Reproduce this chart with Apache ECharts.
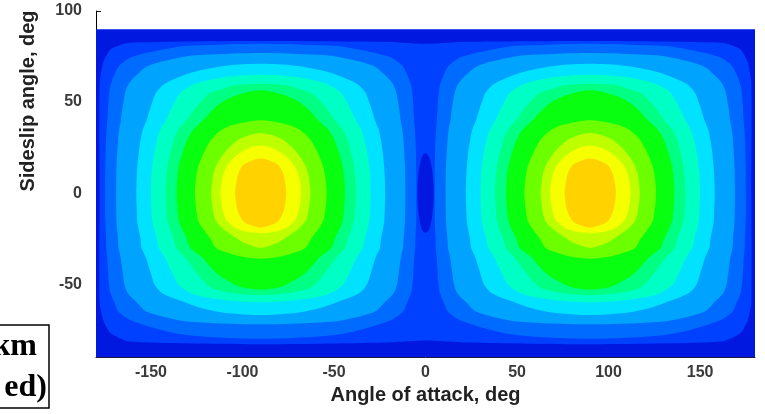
<!DOCTYPE html>
<html>
<head>
<meta charset="utf-8">
<title>Sideslip / angle of attack contour</title>
<script src="https://cdn.jsdelivr.net/npm/echarts@6/dist/echarts.min.js"></script>
<style>
  html, body { margin: 0; padding: 0; background: #fff; }
  #chart { width: 765px; height: 414px; }
</style>
</head>
<body>
<div id="chart"></div>
<script>
// field covered by the contour plot (deg)
var alphaRange = [-180, 180];
var betaRange = [-90, 90];
// the two lobes are centred at these angles of attack
var peakCenters = [-90, 90];

// contour lines: [beta, half width in alpha from the lobe centre]
// listed bottom to top, one array per level (region with level >= k)
var contourL2 = [[-80, 0], [-78, 39.6], [-75, 54.8], [-70, 70.7], [-65, 77.8], [-60, 80], [-55, 82.1], [-50, 82.9], [-45, 83.3], [-40, 83.6], [-35, 83.9], [-30, 84.4], [-25, 84.5], [-20, 84.7], [-15, 84.9], [-10, 85], [-5, 85], [0, 85], [5, 85], [10, 85], [15, 84.9], [20, 84.8], [25, 84.7], [30, 84.5], [35, 84.2], [40, 83.8], [45, 83.5], [50, 83.2], [55, 82.8], [60, 81.9], [65, 80], [70, 77.3], [75, 69.8], [80, 47.2], [81, 36], [82, 0]];
var contourL3 = [[-72, 0], [-71, 33], [-70, 44], [-65, 62.5], [-60, 67.7], [-55, 72.6], [-50, 74.5], [-45, 75.2], [-40, 75.9], [-35, 76.6], [-30, 77.7], [-25, 78], [-20, 78.5], [-15, 78.8], [-10, 78.9], [-5, 79], [0, 79], [5, 79], [10, 78.9], [15, 78.8], [20, 78.5], [25, 78.2], [30, 77.9], [35, 77.3], [40, 76.4], [45, 75.8], [50, 75], [55, 74.1], [60, 72.1], [65, 67.7], [70, 61.3], [75, 41.1], [76, 30.7], [77, 0]];
var contourL4 = [[-67, 0], [-66, 17.4], [-65, 24.2], [-62.5, 34.5], [-60, 41.4], [-55, 53.8], [-50, 58.1], [-45, 59.8], [-40, 61.3], [-35, 62.9], [-30, 65.1], [-25, 65.7], [-20, 66.7], [-15, 67.5], [-10, 67.7], [-5, 67.9], [0, 68], [5, 67.9], [10, 67.7], [15, 67.4], [20, 66.9], [25, 66.3], [30, 65.5], [35, 64.4], [40, 62.4], [45, 60.9], [50, 59.2], [55, 57.3], [60, 52.5], [65, 41.4], [67.5, 33], [70, 18.7], [71, 0]];
var contourL5 = [[-60, 0], [-59, 17], [-57.5, 28.4], [-55, 38.2], [-50, 45.2], [-45, 47.8], [-40, 50.2], [-35, 52.6], [-30, 55.8], [-25, 56.8], [-20, 58.2], [-15, 59.3], [-10, 59.7], [-5, 59.9], [0, 60], [5, 59.9], [10, 59.7], [15, 59.2], [20, 58.5], [25, 57.6], [30, 56.5], [35, 54.8], [40, 51.9], [45, 49.6], [50, 47], [55, 44], [60, 35.7], [62.5, 26.4], [64, 17], [65, 0]];
var contourL6 = [[-56, 0], [-55, 14.3], [-52.5, 25.9], [-50, 29.7], [-45, 34.2], [-40, 37.9], [-35, 41.6], [-30, 46.2], [-25, 47.6], [-20, 49.5], [-15, 51], [-10, 51.5], [-5, 51.8], [0, 52], [5, 51.8], [10, 51.5], [15, 50.9], [20, 49.9], [25, 48.6], [30, 47.2], [35, 44.7], [40, 40.5], [45, 37], [50, 32.9], [55, 27.6], [57.5, 19.9], [59, 15.7], [60, 0]];
var contourL7 = [[-53, 0], [-52, 9], [-50, 14.5], [-45, 23], [-40, 28], [-35, 32.4], [-30, 38.6], [-25, 40.4], [-20, 42.9], [-15, 44.8], [-10, 45.4], [-5, 45.8], [0, 46], [5, 45.8], [10, 45.4], [15, 44.7], [20, 43.4], [25, 41.8], [30, 39.9], [35, 36.7], [40, 31.5], [45, 27], [50, 21], [53, 15], [55.5, 7], [56.5, 0]];
var contourL8 = [[-36, 0], [-35, 10.2], [-32.5, 19], [-30, 24.5], [-25, 27.5], [-20, 31.3], [-15, 34.2], [-10, 35.1], [-5, 35.7], [0, 36], [5, 35.7], [10, 35.1], [15, 34], [20, 32.1], [25, 29.7], [30, 26.6], [35, 20.9], [37.5, 14.9], [40, 0]];
var contourL9 = [[-30, 0], [-27.5, 8.5], [-25, 12.8], [-20, 20.1], [-15, 24.6], [-10, 26], [-5, 26.7], [0, 27.1], [5, 26.7], [10, 26], [15, 24.4], [20, 21.4], [25, 17.3], [30, 10.9], [33, 0]];
var contourL10 = [[-22, 0], [-20, 12], [-15, 18.7], [-10, 20.6], [-5, 21.6], [0, 22], [5, 21.6], [10, 20.6], [15, 18.4], [20, 14.1], [25, 5.8], [26, 0]];
var contourL11 = [[-19, 0], [-17, 7], [-15, 10], [-10, 12.5], [-5, 13.5], [0, 14], [5, 13.5], [10, 12.5], [15, 10], [17, 7], [19, 0]];
// dark spot between the lobes at alpha = 0: [beta, half width]
var centreDark = [[-22, 0], [-20, 1.9], [-15, 3.2], [-10, 3.9], [-5, 4.3], [0, 4.4], [5, 4.3], [10, 3.9], [15, 3.2], [20, 1.9], [22, 0]];
// outer edge of the level-1 band, [alpha, beta], whole width
var level1Outline = [[-178, 0], [-178, 60], [-176, 72], [-172, 79], [-162, 82.5], [-90, 83.5], [-20, 83], [0, 82], [20, 83], [90, 83.5], [162, 82.5], [172, 79], [176, 72], [178, 60], [178, 0], [178, -60], [176, -70], [172, -77], [162, -81.5], [90, -83], [20, -82], [0, -81], [-20, -82], [-90, -83], [-162, -81.5], [-172, -77], [-176, -70], [-178, -60]];

var levelColors = [
  '#0018e0', '#0040ff', '#006cff', '#00a4ff', '#00e2ff', '#00ffc4',
  '#00ff82', '#08ff10', '#6cff00', '#beff00', '#f6ff00', '#ffd200'
];

var xTicks = [-150, -100, -50, 0, 50, 100, 150];
var yTicks = [-50, 0, 50, 100];

var lobeContours = [null, null, contourL2, contourL3, contourL4, contourL5, contourL6,
  contourL7, contourL8, contourL9, contourL10, contourL11];

// turn a [beta, halfWidth] profile into a closed outline around centre c
function halfWidthOutline(profile, c) {
  var pts = [];
  profile.forEach(function (p) { pts.push([c + p[1], p[0]]); });
  for (var i = profile.length - 1; i >= 0; i--) {
    if (profile[i][1] > 0) pts.push([c - profile[i][1], profile[i][0]]);
  }
  return pts;
}

// painting order: background level, level-1 band, dark centre, then the lobes
var shapes = [];
shapes.push({
  level: 0, smooth: 0,
  outline: [[alphaRange[0], betaRange[0]], [alphaRange[1], betaRange[0]],
    [alphaRange[1], betaRange[1]], [alphaRange[0], betaRange[1]]]
});
shapes.push({ level: 1, smooth: 0.2, outline: level1Outline });
shapes.push({ level: 0, smooth: 0.3, outline: halfWidthOutline(centreDark, 0) });
for (var k = 2; k < lobeContours.length; k++) {
  peakCenters.forEach(function (c) {
    shapes.push({ level: k, smooth: 0.3, outline: halfWidthOutline(lobeContours[k], c) });
  });
}

var labelStyle = {
  color: '#3a3a3a',
  fontSize: 16,
  fontWeight: 'bold',
  fontFamily: 'Liberation Sans, Arial, sans-serif'
};

var myChart = echarts.init(document.getElementById('chart'));
var option = {
  animation: false,
  backgroundColor: '#fff',
  grid: { left: 96, right: 10, top: 11, bottom: 57 },
  xAxis: {
    type: 'value',
    min: -180,
    max: 180,
    name: 'Angle of attack, deg',
    nameLocation: 'middle',
    nameGap: 36,
    nameTextStyle: {
      color: '#222',
      fontSize: 20,
      fontWeight: 'bold',
      fontFamily: 'Liberation Sans, Arial, sans-serif',
      verticalAlign: 'middle'
    },
    splitLine: { show: false },
    axisLine: { onZero: false, lineStyle: { color: '#1a1a40', width: 1 } },
    axisTick: { inside: true, length: 5, customValues: xTicks, lineStyle: { color: '#111' } },
    axisLabel: Object.assign({ customValues: xTicks, margin: 8 }, labelStyle)
  },
  yAxis: {
    type: 'value',
    min: -90,
    max: 100,
    splitLine: { show: false },
    axisLine: { onZero: false, lineStyle: { color: '#000', width: 1 } },
    axisTick: { inside: true, length: 5, customValues: yTicks, lineStyle: { color: '#111' } },
    axisLabel: Object.assign({ customValues: yTicks, margin: 14 }, labelStyle)
  },
  graphic: [
    {
      type: 'text',
      x: 28,
      y: 101,
      rotation: Math.PI / 2,
      style: {
        text: 'Sideslip angle, deg',
        fill: '#222',
        font: 'bold 20px "Liberation Sans", Arial, sans-serif',
        align: 'center',
        verticalAlign: 'middle'
      }
    },
    {
      type: 'rect',
      shape: { x: -5, y: 325, width: 54, height: 83 },
      style: { fill: '#fff', stroke: '#000', lineWidth: 1.5 }
    },
    {
      type: 'text',
      x: 37,
      y: 347,
      style: {
        text: 'km',
        fill: '#000',
        font: 'bold 32px "Liberation Serif", "Times New Roman", serif',
        align: 'right',
        verticalAlign: 'middle'
      }
    },
    {
      type: 'text',
      x: 47,
      y: 388,
      style: {
        text: 'ed)',
        fill: '#000',
        font: 'bold 32px "Liberation Serif", "Times New Roman", serif',
        align: 'right',
        verticalAlign: 'middle'
      }
    }
  ],
  series: [
    {
      type: 'custom',
      silent: true,
      clip: true,
      encode: { x: 0, y: 1 },
      renderItem: function (params, api) {
        var s = shapes[params.dataIndex];
        var pts = s.outline.map(function (p) { return api.coord(p); });
        return {
          type: 'polygon',
          shape: { points: pts, smooth: s.smooth },
          style: { fill: levelColors[s.level] }
        };
      },
      data: shapes.map(function (s) { return [s.outline[0][0], s.outline[0][1]]; })
    }
  ]
};
myChart.setOption(option);
window.onresize = function () {
  myChart.resize();
};
</script>
</body>
</html>
